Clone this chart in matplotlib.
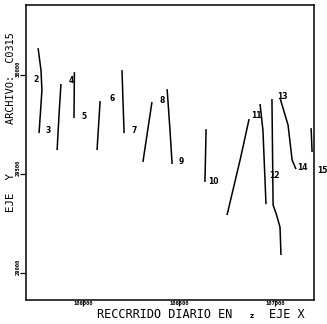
import matplotlib
matplotlib.use("Agg")
import matplotlib.pyplot as plt
from matplotlib.transforms import offset_copy

# Track segments (x = recorrido, y = eje Y)
seg_A_x = [105766, 105781, 105786, 105771]
seg_A_y = [30136, 30025, 29924, 29707]
seg_B_x = [105885, 105875, 105865]
seg_B_y = [29955, 29798, 29621]
seg_C_x = [105955, 105953]
seg_C_y = [30015, 29783]
seg_D_x = [106089, 106073]
seg_D_y = [29869, 29621]
seg_E_x = [106203, 106208, 106214]
seg_E_y = [30025, 29874, 29707]
seg_F_x = [106359, 106312]
seg_F_y = [29864, 29561]
seg_G_x = [106438, 106453, 106464]
seg_G_y = [29929, 29722, 29551]
seg_H_x = [106641, 106635]
seg_H_y = [29727, 29460]
seg_I_x = [106865, 106818, 106750]
seg_I_y = [29778, 29571, 29293]
seg_J_x = [106922, 106937, 106953]
seg_J_y = [29854, 29722, 29348]
seg_K_x = [106984, 106990, 107005, 107026, 107031]
seg_K_y = [29879, 29343, 29303, 29232, 29091]
seg_L_x = [107026, 107068, 107083, 107089, 107109]
seg_L_y = [29884, 29747, 29621, 29571, 29525]
seg_M_x = [107188, 107193]
seg_M_y = [29732, 29611]

segments = [(seg_A_x, seg_A_y), (seg_B_x, seg_B_y), (seg_C_x, seg_C_y),
            (seg_D_x, seg_D_y), (seg_E_x, seg_E_y), (seg_F_x, seg_F_y),
            (seg_G_x, seg_G_y), (seg_H_x, seg_H_y), (seg_I_x, seg_I_y),
            (seg_J_x, seg_J_y), (seg_K_x, seg_K_y), (seg_L_x, seg_L_y),
            (seg_M_x, seg_M_y)]

label_text = ["2", "3", "4", "5", "6", "7", "8", "9", "10", "11", "12", "13", "14", "15"]
label_x = [105755, 105818, 105938, 106005, 106151, 106266, 106411, 106510,
           106677, 106901, 106995, 107036, 107141, 107245]
label_y = [29980, 29722, 29975, 29793, 29884, 29722, 29874, 29566,
           29465, 29798, 29495, 29894, 29535, 29520]

x_ticks = [106000, 106500, 107000]
x_tick_labels = ["106000", "106500", "107000"]
y_ticks = [29000, 29500, 30000]
y_tick_labels = ["29000", "29500", "30000"]

MONO = "DejaVu Sans Mono"

fig = plt.figure(figsize=(3.27, 3.24), dpi=100)
ax = fig.add_axes([26/327, 24/324, 288/327, 295/324])

for xs, ys in segments:
    ax.plot(xs, ys, color="black", lw=1.1, solid_capstyle="butt")

for t, x, y in zip(label_text, label_x, label_y):
    ax.text(x, y, t, fontsize=5.5, fontweight="bold", ha="center", va="center",
            clip_on=False)

ax.set_xlim(105703, 107203)
ax.set_ylim(28864, 30354)

ax.set_xticks(x_ticks)
ax.set_xticklabels(x_tick_labels, fontsize=4.0, fontweight="bold", family=MONO)
ax.set_yticks(y_ticks)
ax.set_yticklabels(y_tick_labels, fontsize=4.0, fontweight="bold", family=MONO,
                   rotation=90, va="center")
ax.tick_params(axis="x", direction="out", length=4, width=0.9, pad=-3,
               colors="black")
ax.tick_params(axis="y", direction="out", length=4, width=0.9, pad=-0.5,
               colors="black")
for lab in ax.get_yticklabels():
    lab.set_transform(offset_copy(lab.get_transform(), fig=fig, x=0, y=6,
                                  units="dots"))
for s in ax.spines.values():
    s.set_linewidth(1.1)

fig.text(97/327, 1 - 315/324, "RECCRRIDO DIARIO EN", fontsize=8.6, family=MONO,
         ha="left", va="center")
fig.text(252/327, 1 - 315.5/324, "z", fontsize=5, fontweight="bold", ha="center",
         va="center")
fig.text(305/327, 1 - 315/324, "EJE X", fontsize=8.6, family=MONO, ha="right",
         va="center")

fig.text(11.5/327, 1 - 192/324, "EJE  Y", fontsize=7.8, family=MONO, rotation=90,
         ha="center", va="center")
fig.text(11.5/327, 1 - 78/324, "ARCHIVO:  C0315", fontsize=7.4, family=MONO,
         rotation=90, ha="center", va="center")

fig.savefig("out.png", dpi=100)
